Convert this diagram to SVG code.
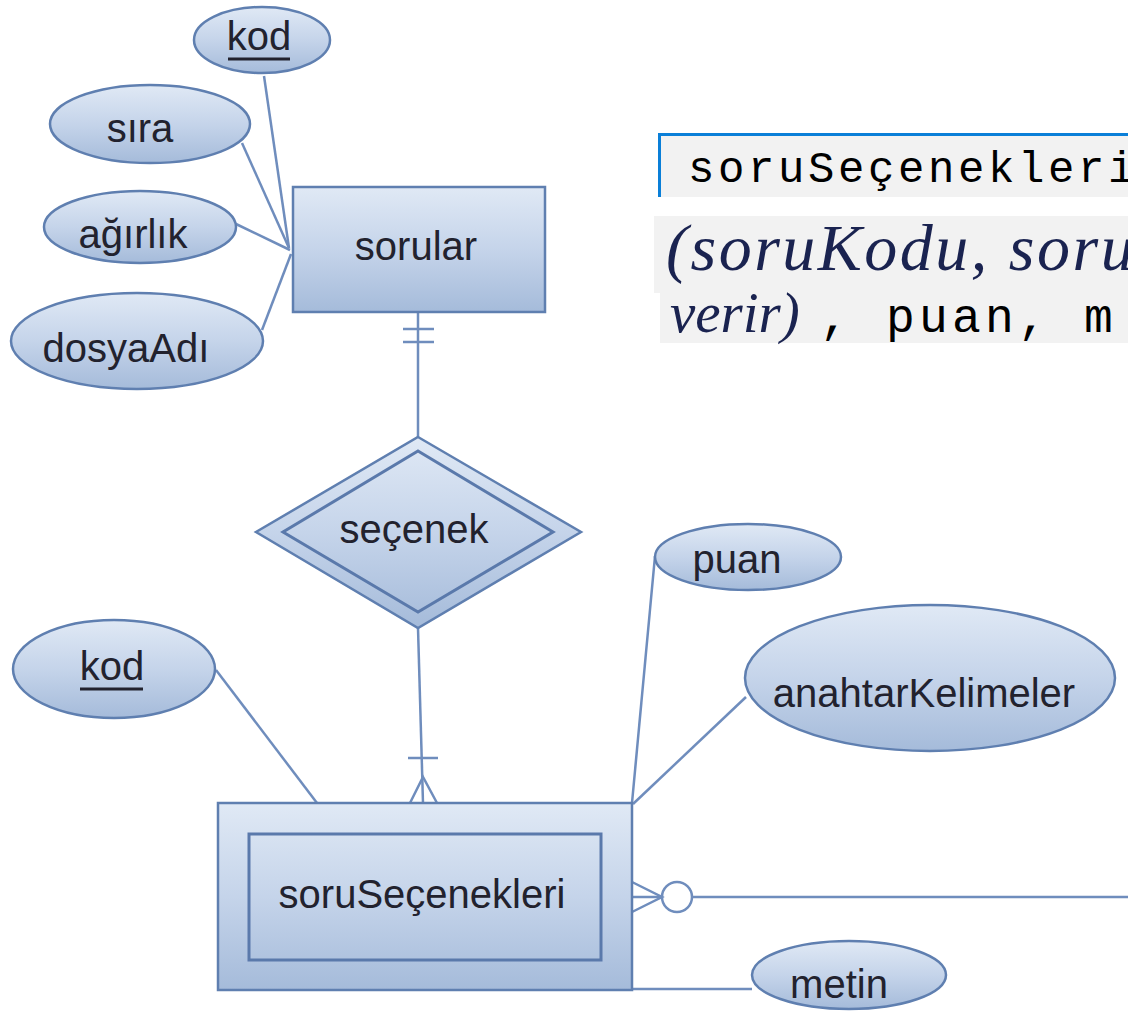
<svg xmlns="http://www.w3.org/2000/svg" width="1128" height="1011" viewBox="0 0 1128 1011">
<defs>
<linearGradient id="g" x1="0" y1="0" x2="0" y2="1">
<stop offset="0" stop-color="#e0e9f5"/>
<stop offset="0.5" stop-color="#c5d4ea"/>
<stop offset="1" stop-color="#a5bbda"/>
</linearGradient>
<style>
.sh{fill:url(#g);stroke:#5f7fb0;stroke-width:2.5}
.in{fill:none;stroke:#5a79ab;stroke-width:3}
.lb{font-family:"Liberation Sans",Arial,sans-serif;font-size:40px;fill:#22222e;text-anchor:middle}
.ln{stroke:#6f8dbd;stroke-width:2.5;fill:none}
.ul{stroke:#22222e;stroke-width:3}
.mono{font-family:"Liberation Mono","Courier New",monospace;fill:#000}
.it{font-family:"Liberation Serif","Times New Roman",serif;font-style:italic;fill:#1a2350}
</style>
</defs>
<rect width="1128" height="1011" fill="#fff"/>

<g id="code-text">
<rect x="658" y="133" width="470" height="64" fill="#f2f2f2"/>
<rect x="658" y="133" width="470" height="3" fill="#0a7fd8"/>
<rect x="658" y="133" width="3" height="64" fill="#0a7fd8"/>
<text class="mono" x="688" y="182" font-size="44" letter-spacing="3.6">soruSeçenekleri</text>
<rect x="654" y="216" width="474" height="77" fill="#f2f2f2"/>
<text class="it" x="666" y="270" font-size="66" letter-spacing="2.5">(soruKodu, soru</text>
<rect x="660" y="293" width="468" height="50" fill="#f2f2f2"/>
<text class="it" x="670" y="332" font-size="57">verir)</text>
<text class="mono" x="820" y="332" font-size="48" letter-spacing="4.2">, puan, m</text>
</g>

<g id="connectors">
<line class="ln" x1="264" y1="76" x2="289" y2="248"/>
<line class="ln" x1="242" y1="143" x2="289" y2="248"/>
<line class="ln" x1="236" y1="224" x2="290" y2="250"/>
<line class="ln" x1="262" y1="330" x2="291" y2="254"/>
<line class="ln" x1="418" y1="312" x2="418" y2="437"/>
<line class="ln" x1="403" y1="329" x2="434" y2="329"/>
<line class="ln" x1="403" y1="342" x2="434" y2="342"/>
<line class="ln" x1="418" y1="628" x2="423" y2="803"/>
<line class="ln" x1="408" y1="758" x2="438" y2="758"/>
<polyline class="ln" points="410,803 423,777 437,803"/>
<line class="ln" x1="216" y1="670" x2="317" y2="803"/>
<polyline class="ln" points="632,803 655,556"/>
<line class="ln" x1="633" y1="804" x2="746" y2="697"/>
<polyline class="ln" points="632,882 662,897 632,912"/>
<line class="ln" x1="632" y1="897" x2="662" y2="897"/>
<circle class="ln" cx="677" cy="897" r="15"/>
<line class="ln" x1="692" y1="897" x2="1128" y2="897"/>
<line class="ln" x1="632" y1="989" x2="752" y2="989"/>
</g>

<g id="attr-kod-top">
<ellipse class="sh" cx="262" cy="40" rx="68" ry="33"/>
<text class="lb" x="259" y="50">kod</text>
<line class="ul" x1="228" y1="59" x2="290" y2="59"/>
</g>
<g id="attr-sira">
<ellipse class="sh" cx="150" cy="124" rx="100" ry="39"/>
<text class="lb" x="140" y="142">sıra</text>
</g>
<g id="attr-agirlik">
<ellipse class="sh" cx="140" cy="227" rx="96" ry="36"/>
<text class="lb" x="133" y="248">ağırlık</text>
</g>
<g id="attr-dosyaAdi">
<ellipse class="sh" cx="137" cy="341" rx="126" ry="48"/>
<text class="lb" x="126" y="362">dosyaAdı</text>
</g>
<g id="entity-sorular">
<rect class="sh" x="293" y="187" width="252" height="125"/>
<text class="lb" x="416" y="260">sorular</text>
</g>
<g id="rel-secenek">
<polygon class="sh" points="418,437 581,532 418,628 256,532"/>
<polygon class="in" points="418,451 553,532 418,612 283,532"/>
<text class="lb" x="414" y="543">seçenek</text>
</g>
<g id="attr-kod-bottom">
<ellipse class="sh" cx="114" cy="669" rx="101" ry="49"/>
<text class="lb" x="112" y="680">kod</text>
<line class="ul" x1="80" y1="689" x2="143" y2="689"/>
</g>
<g id="attr-puan">
<ellipse class="sh" cx="748" cy="557" rx="93" ry="33"/>
<text class="lb" x="737" y="573">puan</text>
</g>
<g id="attr-anahtarKelimeler">
<ellipse class="sh" cx="930" cy="678" rx="185" ry="73"/>
<text class="lb" x="924" y="707">anahtarKelimeler</text>
</g>
<g id="entity-soruSecenekleri">
<rect class="sh" x="218" y="803" width="414" height="187"/>
<rect class="in" x="249" y="834" width="352" height="126"/>
<text class="lb" x="422" y="908">soruSeçenekleri</text>
</g>
<g id="attr-metin">
<ellipse class="sh" cx="849" cy="975" rx="97" ry="34"/>
<text class="lb" x="839" y="998">metin</text>
</g>
</svg>
